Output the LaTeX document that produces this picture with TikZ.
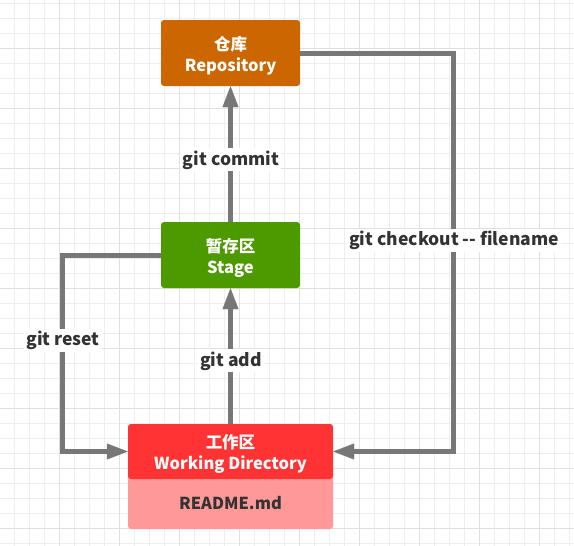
\documentclass[tikz,border=0pt]{standalone}
\usepackage{fontspec}
\setmainfont{Noto Sans CJK SC}
\usetikzlibrary{arrows.meta}

\definecolor{repocol}{HTML}{CC6600}
\definecolor{stagecol}{HTML}{4D9900}
\definecolor{workcol}{HTML}{FF3333}
\definecolor{readmecol}{HTML}{FF9999}
\definecolor{flowcol}{HTML}{777777}
\definecolor{cmdcol}{HTML}{333333}
\definecolor{minorcol}{HTML}{EEEEEE}
\definecolor{majorcol}{HTML}{E0E0E0}

\begin{document}
\begin{tikzpicture}[x=1pt, y=-1pt,
    >={Triangle[length=21pt, width=16pt, line width=0.4pt]},
    area/.style={rounded corners=3pt, text=white, align=center, inner sep=0pt,
        font=\bfseries\fontsize{16.5}{21}\selectfont},
    twoline/.style={text height=40pt, text depth=4pt},
    flow/.style={draw=flowcol, line width=5pt, ->},
    cmd/.style={fill=white, text=cmdcol, inner sep=2pt, anchor=base,
        font=\bfseries\fontsize{17.5}{21}\selectfont}]
    \def\W{574}
    \def\H{546}
    \useasboundingbox (0,0) rectangle (\W,\H);
    % Grid paper
    \foreach \i in {0,...,38}
        \draw[minorcol, line width=1pt] ({14.5+15*\i},0) -- ({14.5+15*\i},\H);
    \foreach \i in {0,...,36}
        \draw[minorcol, line width=1pt] (0,{3.5+15*\i}) -- (\W,{3.5+15*\i});
    \foreach \i in {0,...,9}
        \draw[majorcol, line width=1pt] ({59.5+60*\i},0) -- ({59.5+60*\i},\H);
    \foreach \i in {0,...,8}
        \draw[majorcol, line width=1pt] (0,{48.5+60*\i}) -- (\W,{48.5+60*\i});

    % Areas
    \node[area, twoline, fill=repocol, minimum width=139pt, minimum height=66pt]
        (repo) at (230.5,53) {仓库\\Repository};
    \node[area, twoline, fill=stagecol, minimum width=139pt, minimum height=66pt]
        (stage) at (230.5,255) {暂存区\\Stage};
    \node[area, fill=readmecol, text=cmdcol, text height=17pt, text depth=0pt,
        minimum width=205pt, minimum height=56pt]
        (readme) at (230.5,501) {README.md};
    \node[area, twoline, fill=workcol, minimum width=205pt, minimum height=55pt]
        (wd) at (230.5,451.5) {工作区\\Working Directory};

    % Commands
    \coordinate (resetx) at (62.5,0);
    \coordinate (checkx) at (453.5,0);
    \draw[flow] (stage) -- (repo);
    \draw[flow] (wd) -- (stage);
    \draw[flow] (stage.west) -| (resetx |- wd.west) -- (wd.west);
    \draw[flow] (repo.east) -| (checkx |- wd.east) -- (wd.east);

    \node[cmd] (commit) at (231,165) {git commit};
    \node[cmd] (add) at (231,366) {git add};
    \node[cmd] (reset) at (63,345.5) {git reset};
    \node[cmd] (checkout) at (454,245.5) {git checkout -{}- filename};
\end{tikzpicture}
\end{document}
